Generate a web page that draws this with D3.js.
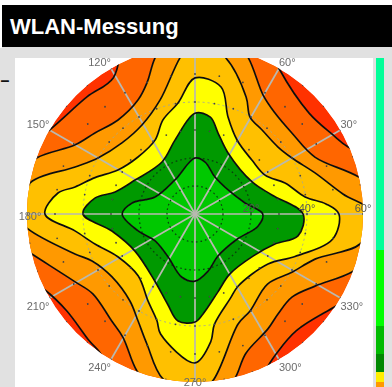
<!DOCTYPE html>
<html><head><meta charset="utf-8">
<script src="https://cdn.jsdelivr.net/npm/d3@7"></script>
<style>html,body{margin:0;padding:0;background:#fff}svg{display:block}</style>
</head><body><svg id="c" width="392" height="387"></svg>
<script>
const titleText = "WLAN-Messung";
const sideMark = "–";
const angleLabels = [30,60,120,150,180,210,240,270,300,330];
const radialLabels = [20,40,60];
const spokes = [0,30,60,90,120,150,180,210,240,270,300,330];
const darkRings = [10,20];
const lightRings = [40];
const sampleRadii = [30,40,50,60];
const sampleAngles = [0,10,20,30,40,50,60,70,80,90,100,110,120,130,140,150,160,170,180,190,200,210,220,230,240,250,260,270,280,290,300,310,320,330,340,350];

const a6 = [0,15,23.6,29.8,41.5,60,70,90,110,121,132.7,150,165,180,195,207,217,230.4,235.5,250,270,285,296,300,311,326.6,340];
const v6 = [85,70,59.7,56.8,54.4,60,70,85,70,56.7,56.9,60,70,85,70,60,57.4,59,60,70,85,70,60,57.8,55.2,60,70];
const a5 = [0,12.7,25.4,39.9,51.6,60.3,71.2,81,90,97,104.4,110,116.6,129.3,141,150,160.5,170,180,187,193.8,209.5,218,232,239.7,249.7,260,270,277,284,290,302.4,309.7,319.4,329,340,350];
const v5 = [76,60,47.4,45.1,46,49,59,68,76,66,57.5,50,45.5,43.4,46,49.4,60,68,76,68,60,49.2,46.3,48.4,51,59.8,68,76,68,60,53,48.6,46.4,45.6,50,60,68];
const a4 = [0,7.7,18.9,30,38.9,51.4,60.4,66.4,78.8,90,95.5,107,120.8,135.8,150,158.6,169.4,180,185,198.4,204.5,217,233.2,242,249.7,259,270,276,291.4,299.6,316,329,339.4,349.8];
const v4 = [64,53.3,45.3,40,38.1,38.4,39.8,45.6,56.8,63,56,42.6,37,36.4,40,46,60,64,60,45.2,40.4,37.2,38.8,43.3,49.5,60,64,60,42.2,39.8,36,40.4,45.8,60];
const a3 = [0,4.4,8.8,19,29,43.5,60.4,71.2,78.4,90,98.7,108.8,118.4,135,150.3,160,167.3,171.3,180,188,196.7,209,227.4,241.6,250.4,254,270,277,280,292.4,301,325.6,337,349.7];
const v3 = [51.4,46.9,39.8,34,28.6,28,30.4,36.6,46.3,48.6,40.1,35.5,30,28.8,31.7,38,43.9,49.5,53.6,43.3,37.3,31.5,30,35.3,40.5,44.6,53.2,46,40,32.8,30,31.6,38.8,50];
const a2 = [0,13.9,29.3,61.6,74,81,90,105,122.4,150.5,164.6,171,180,191.6,211.7,239,253,261,270,274.6,286.4,300,324,339.4,348];
const v2 = [38.6,28.3,23.4,24.8,30,35,36,27.4,22,24.6,29.6,36.2,40,30.3,25.2,27.9,33.6,38.7,38.6,35.8,29,24.8,25.6,30.5,37.6];
const a1 = [0,12.4,36,61.6,79,90,120.5,157,170,180,196.6,214,238,258,270,283,298.7,329,349];
const v1 = [24.2,18.3,14.6,15,18.9,20,14.1,15.5,22.8,26,21.2,17.2,18.1,23,24,20.9,17.1,17.5,22.9];

const levels = [
  {a:a6,v:v6,fill:"#ff6600"},
  {a:a5,v:v5,fill:"#ff9900"},
  {a:a4,v:v4,fill:"#ffc000"},
  {a:a3,v:v3,fill:"#ffff00"},
  {a:a2,v:v2,fill:"#009900"},
  {a:a1,v:v1,fill:"#00c800"}
];
const barStops = [0,1,2,3,4,5];
const barColors = ["#00ff99","#00ff00","#00bb00","#008800","#ffee00","#ff9900"];
const barEdges = [58,250,326,354,372,382,387];

const svg = d3.select("#c");
const cx = 195, cy = 214, R = 168;
const r = d3.scaleLinear().domain([0,60]).range([0,R]);
const th = d3.scaleLinear().domain([0,360]).range([Math.PI/2, Math.PI/2-2*Math.PI]);

svg.append("rect").attr("width",392).attr("height",387).attr("fill","#e1e1e1");
svg.append("rect").attr("width",392).attr("height",5).attr("fill","#fff");
svg.append("rect").attr("y",5).attr("width",2).attr("height",43).attr("fill","#fff");
svg.append("rect").attr("x",2).attr("y",5).attr("width",390).attr("height",42).attr("fill","#000");
svg.append("text").attr("x",10).attr("y",33.5).attr("font-family","Liberation Sans")
  .attr("font-weight","bold").attr("font-size",22).attr("fill","#fff").text(titleText);
svg.append("text").attr("x",0.5).attr("y",85.5).attr("font-family","Liberation Sans")
  .attr("font-weight","bold").attr("font-size",16).attr("fill","#111").text(sideMark);

const defs = svg.append("defs");
defs.append("filter").attr("id","soft").attr("x","-5%").attr("y","-5%").attr("width","110%").attr("height","110%")
  .append("feGaussianBlur").attr("stdDeviation",0.55);
const clip = defs.append("clipPath").attr("id","disc");
clip.append("path").attr("d",d3.arc()({innerRadius:0,outerRadius:R,startAngle:0,endAngle:2*Math.PI}));

const panel = svg.append("svg").attr("x",15).attr("y",58).attr("width",358).attr("height",329);
panel.append("rect").attr("width",358).attr("height",329).attr("fill","#fff");
const g = panel.append("g").attr("filter","url(#soft)").append("g").attr("transform",`translate(${cx-15},${cy-58})`);
const plot = g.append("g").attr("clip-path","url(#disc)");
plot.append("circle").attr("r",R).attr("fill","#ff3300");

const line = d3.lineRadial().curve(d3.curveCatmullRomClosed.alpha(0.5));
const pathOf = l => line(l.a.map((d,i)=>[th(d),r(l.v[i])]));
levels.forEach(l=>plot.append("path").attr("d",pathOf(l)).attr("fill",l.fill));

const polar = (deg,val)=>{const t=deg*Math.PI/180;return [r(val)*Math.cos(t), -r(val)*Math.sin(t)];};

plot.selectAll(".spoke").data(spokes).join("line").attr("class","spoke")
  .attr("x1",0).attr("y1",0)
  .attr("x2",d=>polar(d,60)[0]).attr("y2",d=>polar(d,60)[1])
  .attr("stroke","#b9b9b0").attr("stroke-width",1.7);
plot.selectAll(".dr").data(darkRings).join("circle").attr("class","dr").attr("r",d=>r(d))
  .attr("fill","none").attr("stroke","#0b3a10").attr("stroke-width",1.2).attr("stroke-dasharray","1.6 3");
plot.selectAll(".lr").data(lightRings).join("circle").attr("class","lr").attr("r",d=>r(d))
  .attr("fill","none").attr("stroke","#a8a890").attr("stroke-width",1).attr("stroke-dasharray","2 3");

levels.forEach(l=>plot.append("path").attr("d",pathOf(l)).attr("fill","none").attr("stroke","#111").attr("stroke-width",1.7));

const samples = d3.cross(sampleRadii,sampleAngles);
plot.selectAll(".s").data(samples).join("circle").attr("class","s")
  .attr("cx",d=>polar(d[1],d[0])[0]).attr("cy",d=>polar(d[1],d[0])[1])
  .attr("r",0.9).attr("fill","#444");

// angle labels hang off the spoke tips, on the outer side
const labelX = d => d===180 ? polar(d,60)[0]+3 : d===270 ? 0 : polar(d,60)[0];
const labelY = d => {
  const tip = polar(d,60)[1];
  if (d===180) return tip+6;
  if (d===270) return tip+4;
  return tip + (tip<0 ? -2.5 : 12);
};
const labelAnchor = d => (d===180||d===270) ? "middle" : (d>90&&d<270 ? "end" : "start");
g.selectAll(".al").data(angleLabels).join("text").attr("class","al")
  .attr("x",labelX).attr("y",labelY).attr("text-anchor",labelAnchor)
  .attr("font-family","Liberation Sans").attr("font-size",11).attr("fill","#6b6b6b")
  .text(d=>d+"°");
g.selectAll(".rl").data(radialLabels).join("text").attr("class","rl")
  .attr("x",d=>r(d)).attr("y",-2)
  .attr("text-anchor","middle").attr("font-family","Liberation Sans").attr("font-size",11).attr("fill","#555")
  .text(d=>d+"°");

svg.selectAll(".b").data(barStops).join("rect").attr("class","b")
  .attr("x",376).attr("width",8)
  .attr("y",d=>barEdges[d]).attr("height",d=>barEdges[d+1]-barEdges[d])
  .attr("fill",d=>barColors[d]);
</script></body></html>
